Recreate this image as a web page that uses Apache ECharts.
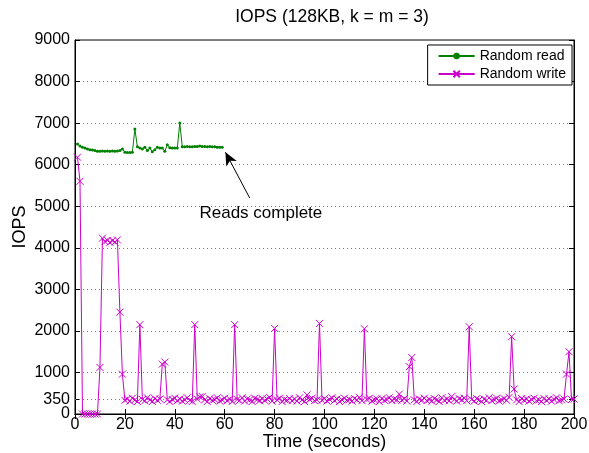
<!DOCTYPE html>
<html>
<head>
<meta charset="utf-8">
<script src="https://cdn.jsdelivr.net/npm/echarts@6/dist/echarts.min.js"></script>
<style>
    html, body { margin: 0; padding: 0; background: #fff; }
    #chart { width: 589px; height: 453px; }
</style>
</head>
<body>
<div id="chart"></div>
<script>
// IOPS per second, starting at t = 1 s
let readIops = [
    6500, 6450, 6420, 6400, 6380, 6360, 6350, 6340, 6320, 6320,
    6330, 6320, 6330, 6320, 6330, 6320, 6330, 6340, 6380, 6300,
    6290, 6290, 6300, 6860, 6430, 6400, 6380, 6420, 6340, 6400,
    6310, 6360, 6420, 6400, 6400, 6320, 6480, 6410, 6400, 6400,
    6400, 7000, 6430, 6430, 6440, 6430, 6430, 6440, 6440, 6450,
    6440, 6440, 6430, 6440, 6430, 6430, 6420, 6420, 6420
];
let writeIops = [
    6180, 5600, 0, 0, 0, 0, 0, 0, 0, 1120,
    4230, 4150, 4180, 4130, 4170, 4140, 4190, 2450, 960, 330,
    360, 310, 380, 340, 300, 2150, 350, 320, 390, 340,
    300, 370, 330, 360, 1200, 1250, 340, 300, 350, 380,
    320, 360, 310, 340, 390, 330, 300, 2150, 360, 410,
    420, 340, 300, 370, 330, 350, 390, 310, 340, 380,
    320, 360, 300, 2150, 350, 330, 390, 310, 360, 340,
    300, 380, 350, 320, 370, 330, 360, 400, 310, 2060,
    340, 380, 300, 350, 330, 370, 320, 360, 310, 390,
    340, 300, 460, 350, 380, 320, 340, 2180, 330, 370,
    310, 350, 390, 320, 360, 300, 340, 380, 330, 350,
    310, 370, 340, 400, 320, 2050, 350, 380, 310, 340,
    360, 300, 370, 330, 350, 390, 320, 360, 340, 480,
    330, 370, 310, 1140, 1360, 340, 300, 360, 330, 380,
    320, 350, 310, 370, 340, 300, 390, 330, 360, 320,
    420, 350, 310, 370, 340, 380, 320, 2100, 350, 310,
    370, 340, 300, 360, 330, 390, 320, 350, 380, 310,
    340, 370, 330, 400, 1860, 600, 340, 300, 370, 330,
    360, 310, 350, 380, 320, 340, 300, 370, 330, 360,
    310, 350, 390, 320, 340, 360, 960, 1500, 350, 360
];
let yTicks = [0, 350, 1000, 2000, 3000, 4000, 5000, 6000, 7000, 8000, 9000];

let font = "'Liberation Sans', Arial, sans-serif";
let green = "#008000";
let magenta = "#cc00cc";
let xMark = "path://M0,0L10,10M10,0L0,10";
let dotted = { color: "#777", type: [1, 3], width: 1 };
let yLabel = { formatter: v => String(v), fontFamily: font, fontSize: 16, color: "#000", margin: 5 };

let myChart = echarts.init(document.getElementById("chart"));

let option = {
    animation: false,
    backgroundColor: "#fff",
    title: {
        text: "IOPS (128KB, k = m = 3)",
        top: 3,
        left: 327,
        textAlign: "center",
        textStyle: { fontFamily: font, fontSize: 17.5, fontWeight: "normal", color: "#000" }
    },
    grid: {
        left: 75, right: 15, top: 40, bottom: 39,
        outerBoundsMode: "none",
        containLabel: false,
        show: true, borderColor: "#000", borderWidth: 1
    },
    legend: {
        orient: "vertical",
        right: 17, top: 45,
        backgroundColor: "#fff",
        borderColor: "#000", borderWidth: 1,
        padding: [4, 6, 4, 10],
        itemGap: 4,
        itemWidth: 36, itemHeight: 8,
        textStyle: { fontFamily: font, fontSize: 14, color: "#000" },
        data: ["Random read", "Random write"]
    },
    xAxis: [{
        type: "value",
        min: 0, max: 200, interval: 20,
        name: "Time (seconds)",
        nameLocation: "middle",
        nameGap: 19,
        nameMoveOverlap: false,
        nameTextStyle: { fontFamily: font, fontSize: 18, color: "#000", verticalAlign: "top" },
        axisLine: { show: true, lineStyle: { color: "#000" } },
        axisTick: { inside: true, length: 5, lineStyle: { color: "#000" } },
        axisLabel: { fontFamily: font, fontSize: 16, color: "#000", margin: 3 },
        splitLine: { show: false }
    }, {
        type: "value", position: "top",
        min: 0, max: 200, interval: 20,
        axisLine: { show: true, lineStyle: { color: "#000" } },
        axisTick: { inside: true, length: 5, lineStyle: { color: "#000" } },
        axisLabel: { show: false },
        splitLine: { show: false }
    }],
    yAxis: [{
        type: "value",
        min: 0, max: 9000, interval: 1000,
        name: "IOPS",
        nameLocation: "middle",
        nameGap: 46,
        nameMoveOverlap: false,
        nameTextStyle: { fontFamily: font, fontSize: 18, color: "#000" },
        axisLine: { show: true, lineStyle: { color: "#000" } },
        axisTick: { inside: true, length: 5, customValues: yTicks, lineStyle: { color: "#000" } },
        axisLabel: Object.assign({ customValues: yTicks.slice(1) }, yLabel),
        splitLine: { show: true, lineStyle: dotted }
    }, {
        // the "0" label alone, so it does not hide the nearby "350"
        type: "value", position: "left",
        min: 0, max: 9000,
        axisLine: { show: false },
        axisTick: { show: false },
        axisLabel: Object.assign({ customValues: yTicks.slice(0, 1) }, yLabel),
        splitLine: { show: false }
    }, {
        type: "value", position: "right",
        min: 0, max: 9000, interval: 1000,
        axisLine: { show: true, lineStyle: { color: "#000" } },
        axisTick: { inside: true, length: 5, customValues: yTicks, lineStyle: { color: "#000" } },
        axisLabel: { show: false },
        splitLine: { show: false }
    }],
    series: [{
        name: "Random read",
        type: "line",
        data: readIops.map((v, i) => [i + 1, v]),
        symbol: "circle",
        symbolSize: 3,
        showAllSymbol: true,
        lineStyle: { color: green, width: 1 },
        itemStyle: { color: green },
        markLine: {
            silent: true,
            symbol: ["none", "none"],
            symbolSize: [9, 13],
            label: { show: false },
            lineStyle: { color: "#000", type: "solid", width: 1 },
            data: [
                [{ coord: [70, 5200], symbol: "none" }, { coord: [60.3, 6300], symbol: "arrow" }],
                { yAxis: 350, lineStyle: dotted }
            ]
        },
        markPoint: {
            silent: true,
            symbol: "circle",
            symbolSize: 1,
            itemStyle: { color: "rgba(0,0,0,0)" },
            label: {
                show: true, position: "inside", formatter: "Reads complete",
                fontFamily: font, fontSize: 17, color: "#000"
            },
            data: [{ coord: [74.5, 4840] }]
        }
    }, {
        name: "Random write",
        type: "line",
        data: writeIops.map((v, i) => [i + 1, v]),
        symbol: xMark,
        symbolSize: 7,
        showAllSymbol: true,
        lineStyle: { color: magenta, width: 1 },
        itemStyle: { color: "none", borderColor: magenta, borderWidth: 1 }
    }]
};
myChart.setOption(option);
</script>
</body>
</html>
